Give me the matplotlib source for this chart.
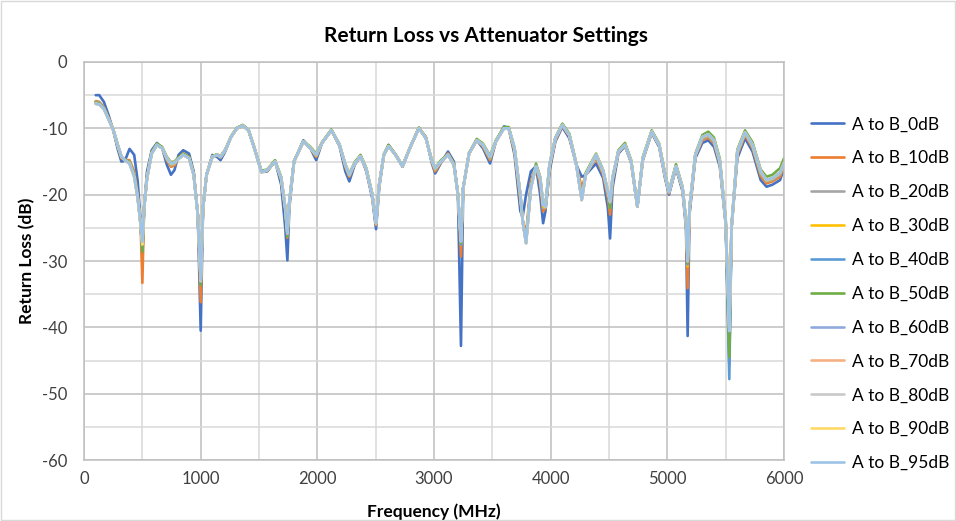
import matplotlib
matplotlib.use("Agg")
import matplotlib.pyplot as plt
from matplotlib.patches import Rectangle

plt.rcParams['font.family'] = ['Lato', 'DejaVu Sans']
plt.rcParams['axes.unicode_minus'] = False

# 频率点 (MHz)
freq = [
    100, 130, 170, 210, 250, 290, 320, 350, 390, 430,
    460, 485, 500, 515, 540, 580, 625, 670, 710, 745,
    775, 810, 850, 900, 940, 975, 1000, 1020, 1050, 1100,
    1140, 1170, 1210, 1260, 1310, 1360, 1410, 1460, 1520, 1570,
    1637, 1690, 1725, 1743, 1760, 1800, 1880, 1940, 1990, 2040,
    2120, 2190, 2240, 2274, 2320, 2370, 2420, 2470, 2503, 2530,
    2570, 2610, 2670, 2730, 2800, 2870, 2930, 2980, 3010, 3060,
    3120, 3170, 3205, 3231, 3250, 3300, 3366, 3420, 3480, 3530,
    3600, 3640, 3690, 3740, 3760, 3789, 3830, 3874, 3910, 3935,
    3955, 3990, 4040, 4100, 4160, 4220, 4266, 4300, 4389, 4450,
    4490, 4509, 4530, 4580, 4637, 4690, 4743, 4790, 4866, 4930,
    4980, 5014, 5074, 5130, 5160, 5174, 5190, 5240, 5300, 5351,
    5400, 5450, 5500, 5531, 5550, 5600, 5666, 5730, 5800, 5850,
    5900, 5966, 6000,
]

rl_0db = [
    -5.0, -5.0, -6.0, -8.0, -10.3, -13.2, -15.0, -14.9, -13.1, -14.0,
    -18.0, -24.0, -29.5, -22.0, -16.5, -13.3, -12.2, -13.0, -15.5, -17.0,
    -16.3, -14.0, -13.3, -13.8, -16.5, -23.0, -40.5, -22.0, -17.0, -14.0,
    -14.3, -14.8, -13.5, -11.3, -10.0, -9.6, -10.3, -13.0, -16.6, -16.5,
    -14.9, -18.5, -25.0, -29.9, -22.0, -15.0, -11.8, -13.0, -14.8, -12.2,
    -10.3, -12.7, -16.5, -18.0, -15.5, -14.2, -16.5, -20.5, -25.2, -19.0,
    -14.0, -12.5, -14.0, -15.8, -12.7, -10.0, -11.3, -15.2, -16.8, -15.2,
    -13.5, -15.0, -20.0, -42.8, -19.0, -13.8, -11.8, -13.0, -15.3, -12.0,
    -9.7, -10.0, -14.0, -22.5, -23.3, -20.0, -16.5, -15.7, -20.0, -24.3,
    -22.5, -16.5, -12.0, -9.8, -11.5, -15.5, -17.3, -17.0, -15.3, -17.5,
    -22.0, -26.6, -19.0, -13.8, -12.7, -15.2, -21.8, -14.8, -10.7, -12.8,
    -17.5, -20.0, -16.0, -19.5, -25.0, -41.3, -23.0, -14.5, -12.2, -11.8,
    -12.8, -15.8, -24.5, -45.5, -25.0, -14.5, -11.5, -13.5, -17.8, -18.8,
    -18.5, -17.8, -16.0,
]

rl_10db = [
    -5.9, -6.0, -6.8, -8.4, -10.2, -12.8, -14.5, -14.8, -14.8, -16.5,
    -20.0, -24.5, -33.3, -22.0, -17.2, -13.6, -12.4, -13.0, -14.8, -15.8,
    -15.6, -14.4, -13.8, -14.3, -16.8, -23.0, -36.2, -22.0, -17.0, -14.2,
    -14.0, -14.4, -13.3, -11.3, -10.0, -9.6, -10.3, -13.0, -16.5, -16.4,
    -15.0, -17.8, -22.5, -26.5, -21.0, -15.0, -12.0, -13.0, -14.3, -12.2,
    -10.3, -12.5, -15.8, -17.3, -15.3, -14.2, -16.3, -20.0, -24.6, -18.5,
    -14.0, -12.6, -14.0, -15.7, -12.7, -10.0, -11.4, -15.0, -16.5, -15.1,
    -13.8, -15.3, -20.0, -29.3, -19.0, -13.8, -11.8, -12.7, -14.8, -12.0,
    -9.9, -10.0, -13.5, -21.0, -23.8, -26.0, -18.0, -15.7, -18.5, -22.5,
    -22.0, -16.0, -11.8, -9.6, -11.2, -15.5, -19.0, -17.0, -14.5, -17.0,
    -20.5, -23.0, -18.0, -13.6, -12.6, -15.1, -21.8, -14.6, -10.6, -12.6,
    -17.2, -19.8, -15.8, -19.2, -24.5, -34.1, -22.5, -14.2, -11.8, -11.4,
    -12.3, -15.4, -24.2, -41.0, -25.0, -14.0, -11.0, -13.0, -17.2, -18.3,
    -18.0, -17.3, -15.6,
]

rl_20db = [
    -6.0, -6.1, -6.9, -8.5, -10.2, -12.7, -14.4, -14.8, -15.0, -16.8,
    -20.2, -24.5, -28.0, -22.0, -17.3, -13.7, -12.4, -13.0, -14.7, -15.6,
    -15.4, -14.5, -13.9, -14.4, -16.9, -23.0, -33.3, -22.0, -17.0, -14.2,
    -14.0, -14.4, -13.3, -11.3, -10.0, -9.6, -10.3, -13.0, -16.5, -16.4,
    -15.0, -17.7, -22.3, -26.0, -21.0, -15.0, -12.0, -13.0, -14.2, -12.2,
    -10.3, -12.5, -15.7, -17.2, -15.3, -14.2, -16.2, -20.0, -24.5, -18.5,
    -14.0, -12.6, -14.0, -15.7, -12.7, -10.0, -11.4, -14.9, -16.3, -15.0,
    -13.9, -15.4, -20.0, -27.5, -19.0, -13.8, -11.8, -12.6, -14.6, -12.0,
    -9.9, -10.0, -13.3, -20.5, -24.0, -26.8, -18.5, -15.7, -18.0, -22.0,
    -22.0, -15.8, -11.6, -9.5, -11.1, -15.5, -20.0, -17.0, -14.3, -16.8,
    -20.0, -22.0, -17.8, -13.5, -12.5, -15.0, -21.8, -14.5, -10.5, -12.5,
    -17.1, -19.7, -15.7, -19.1, -24.2, -30.5, -22.2, -14.1, -11.6, -11.2,
    -12.1, -15.2, -24.1, -42.0, -25.0, -13.8, -10.8, -12.8, -16.9, -18.0,
    -17.8, -17.0, -15.4,
]

rl_30db = [
    -6.1, -6.2, -7.0, -8.5, -10.2, -12.7, -14.3, -14.8, -15.1, -17.0,
    -20.3, -24.5, -28.2, -22.0, -17.4, -13.7, -12.5, -13.0, -14.6, -15.5,
    -15.3, -14.5, -13.9, -14.4, -16.9, -23.0, -33.3, -22.0, -17.0, -14.3,
    -14.0, -14.3, -13.3, -11.3, -10.0, -9.5, -10.3, -13.0, -16.5, -16.4,
    -15.0, -17.6, -22.2, -26.0, -21.0, -15.0, -12.0, -13.0, -14.1, -12.2,
    -10.2, -12.5, -15.6, -17.1, -15.3, -14.1, -16.2, -20.0, -24.4, -18.5,
    -14.0, -12.6, -14.0, -15.7, -12.7, -9.9, -11.4, -14.9, -16.2, -15.0,
    -13.9, -15.4, -20.0, -27.5, -19.0, -13.8, -11.7, -12.6, -14.5, -12.0,
    -9.9, -9.9, -13.2, -20.3, -24.0, -27.0, -18.8, -15.6, -17.8, -21.8,
    -21.9, -15.7, -11.5, -9.4, -11.0, -15.5, -20.5, -17.0, -14.1, -16.6,
    -19.8, -22.0, -17.7, -13.5, -12.4, -15.0, -21.8, -14.5, -10.4, -12.5,
    -17.0, -19.6, -15.6, -19.0, -24.1, -30.8, -22.1, -14.0, -11.4, -11.0,
    -11.9, -15.1, -24.0, -42.0, -25.0, -13.7, -10.7, -12.6, -16.7, -17.9,
    -17.6, -16.8, -15.3,
]

rl_40db = [
    -6.2, -6.3, -7.0, -8.6, -10.2, -12.6, -14.3, -14.8, -15.2, -17.1,
    -20.4, -24.5, -28.4, -22.0, -17.5, -13.8, -12.5, -13.0, -14.5, -15.4,
    -15.2, -14.6, -14.0, -14.5, -17.0, -23.0, -33.3, -22.0, -17.0, -14.3,
    -14.0, -14.3, -13.3, -11.3, -10.0, -9.5, -10.3, -13.0, -16.5, -16.4,
    -15.0, -17.5, -22.1, -26.0, -21.0, -15.0, -12.0, -13.0, -14.0, -12.2,
    -10.2, -12.5, -15.5, -17.0, -15.3, -14.1, -16.2, -20.0, -24.3, -18.5,
    -14.0, -12.6, -14.0, -15.7, -12.7, -9.9, -11.5, -14.8, -16.1, -15.0,
    -14.0, -15.5, -20.0, -27.5, -19.0, -13.8, -11.7, -12.5, -14.4, -12.0,
    -9.9, -9.9, -13.1, -20.2, -24.0, -27.2, -19.0, -15.6, -17.6, -21.6,
    -21.8, -15.6, -11.5, -9.4, -11.0, -15.5, -20.7, -17.0, -14.0, -16.5,
    -19.6, -22.0, -17.6, -13.5, -12.4, -15.0, -21.8, -14.5, -10.4, -12.5,
    -17.0, -19.6, -15.6, -19.0, -24.0, -30.5, -22.0, -14.0, -11.3, -10.9,
    -11.8, -15.0, -24.0, -47.8, -25.0, -13.6, -10.6, -12.5, -16.6, -17.8,
    -17.5, -16.7, -15.2,
]

rl_50db = [
    -6.1, -6.2, -6.9, -8.5, -10.1, -12.5, -14.2, -14.7, -15.1, -17.0,
    -20.3, -24.4, -28.6, -22.0, -17.3, -13.6, -12.3, -12.8, -14.3, -15.1,
    -15.0, -14.4, -13.8, -14.3, -16.8, -23.0, -33.6, -22.0, -17.0, -14.2,
    -13.9, -14.2, -13.2, -11.2, -9.9, -9.5, -10.2, -12.9, -16.4, -16.2,
    -14.8, -17.3, -22.0, -26.3, -21.0, -14.9, -11.9, -12.8, -13.8, -12.1,
    -10.2, -12.4, -15.4, -16.8, -15.1, -14.0, -16.0, -19.8, -24.0, -18.3,
    -13.9, -12.5, -13.9, -15.6, -12.6, -9.9, -11.4, -14.7, -15.9, -14.8,
    -13.9, -15.3, -19.8, -27.3, -19.0, -13.7, -11.6, -12.3, -14.1, -11.8,
    -9.8, -9.8, -12.9, -20.0, -23.8, -27.0, -18.8, -15.3, -17.3, -21.3,
    -21.6, -15.4, -11.4, -9.3, -10.8, -15.3, -20.5, -16.7, -13.8, -16.3,
    -19.5, -22.0, -17.4, -13.3, -12.2, -14.8, -21.6, -14.3, -10.3, -12.3,
    -16.8, -19.4, -15.4, -18.8, -23.8, -30.3, -21.8, -13.8, -11.0, -10.5,
    -11.4, -14.6, -23.6, -44.5, -24.6, -13.2, -10.3, -12.1, -16.2, -17.3,
    -17.0, -16.0, -14.5,
]

rl_60db = [
    -6.2, -6.3, -7.0, -8.6, -10.2, -12.6, -14.2, -14.8, -15.3, -17.2,
    -20.5, -24.5, -27.3, -22.0, -17.5, -13.8, -12.5, -13.0, -14.5, -15.3,
    -15.2, -14.6, -14.0, -14.5, -17.0, -23.0, -33.1, -22.0, -17.0, -14.3,
    -14.0, -14.3, -13.3, -11.3, -10.0, -9.6, -10.3, -13.0, -16.5, -16.3,
    -15.0, -17.5, -22.0, -25.9, -21.0, -15.0, -12.0, -13.0, -14.0, -12.2,
    -10.3, -12.5, -15.5, -17.0, -15.3, -14.2, -16.2, -20.0, -24.3, -18.5,
    -14.0, -12.7, -14.0, -15.7, -12.7, -10.0, -11.5, -14.8, -16.0, -15.0,
    -14.0, -15.5, -20.0, -27.1, -19.0, -13.8, -11.8, -12.5, -14.3, -12.0,
    -10.0, -10.0, -13.0, -20.0, -24.0, -27.3, -19.0, -15.7, -17.5, -21.5,
    -21.8, -15.5, -11.5, -9.5, -11.0, -15.5, -20.8, -17.0, -14.0, -16.5,
    -19.5, -21.2, -17.5, -13.5, -12.5, -15.0, -21.8, -14.5, -10.5, -12.5,
    -17.0, -19.6, -15.7, -19.0, -24.0, -30.1, -22.0, -14.0, -11.3, -10.9,
    -11.8, -15.0, -24.0, -40.6, -25.0, -13.5, -10.6, -12.5, -16.5, -17.8,
    -17.5, -16.7, -15.2,
]

rl_70db = [
    -6.3, -6.4, -7.1, -8.6, -10.2, -12.6, -14.2, -14.8, -15.3, -17.3,
    -20.5, -24.5, -27.4, -22.0, -17.5, -13.8, -12.5, -13.0, -14.5, -15.3,
    -15.2, -14.6, -14.0, -14.5, -17.0, -23.0, -33.0, -22.0, -17.0, -14.3,
    -14.0, -14.3, -13.3, -11.3, -10.0, -9.6, -10.3, -13.0, -16.6, -16.3,
    -15.0, -17.5, -22.0, -25.8, -21.0, -15.0, -12.0, -13.0, -14.0, -12.2,
    -10.3, -12.5, -15.5, -17.0, -15.3, -14.2, -16.2, -20.0, -24.3, -18.5,
    -14.0, -12.7, -14.0, -15.7, -12.7, -10.0, -11.5, -14.8, -16.0, -15.0,
    -14.0, -15.5, -20.0, -27.0, -19.0, -13.8, -11.8, -12.5, -14.3, -12.0,
    -10.0, -10.0, -13.0, -20.0, -24.0, -27.3, -19.0, -15.7, -17.5, -21.5,
    -21.8, -15.5, -11.5, -9.5, -11.0, -15.5, -20.8, -17.0, -14.0, -16.5,
    -19.5, -21.1, -17.5, -13.5, -12.5, -15.0, -21.8, -14.5, -10.5, -12.5,
    -17.0, -19.6, -15.7, -19.0, -24.0, -30.0, -22.0, -14.0, -11.3, -10.9,
    -11.8, -15.0, -24.0, -40.5, -25.0, -13.5, -10.6, -12.5, -16.5, -17.8,
    -17.5, -16.7, -15.2,
]

rl_80db = [
    -6.3, -6.4, -7.1, -8.6, -10.2, -12.6, -14.2, -14.8, -15.3, -17.3,
    -20.5, -24.5, -27.5, -22.0, -17.5, -13.8, -12.5, -13.0, -14.5, -15.3,
    -15.2, -14.6, -14.0, -14.5, -17.0, -23.0, -33.0, -22.0, -17.0, -14.3,
    -14.0, -14.3, -13.3, -11.3, -10.0, -9.6, -10.3, -13.0, -16.6, -16.3,
    -15.0, -17.5, -22.0, -25.8, -21.0, -15.0, -12.0, -13.0, -14.0, -12.2,
    -10.3, -12.5, -15.5, -17.0, -15.3, -14.2, -16.2, -20.0, -24.3, -18.5,
    -14.0, -12.7, -14.0, -15.7, -12.7, -10.0, -11.5, -14.8, -16.0, -15.0,
    -14.0, -15.5, -20.0, -27.0, -19.0, -13.8, -11.8, -12.5, -14.3, -12.0,
    -10.0, -10.0, -13.0, -20.0, -24.0, -27.3, -19.0, -15.7, -17.5, -21.5,
    -21.8, -15.5, -11.5, -9.5, -11.0, -15.5, -20.8, -17.0, -14.0, -16.5,
    -19.5, -21.0, -17.5, -13.5, -12.5, -15.0, -21.8, -14.5, -10.5, -12.5,
    -17.0, -19.6, -15.7, -19.0, -24.0, -30.0, -22.0, -14.0, -11.3, -10.9,
    -11.8, -15.0, -24.0, -40.5, -25.0, -13.5, -10.6, -12.5, -16.5, -17.8,
    -17.5, -16.7, -15.2,
]

rl_90db = [
    -6.3, -6.4, -7.1, -8.6, -10.2, -12.6, -14.2, -14.8, -15.3, -17.3,
    -20.5, -24.5, -27.5, -22.0, -17.5, -13.8, -12.5, -13.0, -14.5, -15.3,
    -15.2, -14.6, -14.0, -14.5, -17.0, -23.0, -33.0, -22.0, -17.0, -14.3,
    -14.0, -14.3, -13.3, -11.3, -10.0, -9.6, -10.3, -13.0, -16.6, -16.3,
    -15.0, -17.5, -22.0, -25.8, -21.0, -15.0, -12.0, -13.0, -14.0, -12.2,
    -10.3, -12.5, -15.5, -17.0, -15.3, -14.2, -16.2, -20.0, -24.3, -18.5,
    -14.0, -12.7, -14.0, -15.7, -12.7, -10.0, -11.5, -14.8, -16.0, -15.0,
    -14.0, -15.5, -20.0, -27.0, -19.0, -13.8, -11.8, -12.5, -14.3, -12.0,
    -10.0, -10.0, -13.0, -20.0, -24.0, -27.3, -19.0, -15.7, -17.5, -21.5,
    -21.8, -15.5, -11.5, -9.5, -11.0, -15.5, -20.8, -17.0, -14.0, -16.5,
    -19.5, -21.0, -17.5, -13.5, -12.5, -15.0, -21.8, -14.5, -10.5, -12.5,
    -17.0, -19.6, -15.7, -19.0, -24.0, -30.0, -22.0, -14.0, -11.3, -10.9,
    -11.8, -15.0, -24.0, -40.5, -25.0, -13.5, -10.6, -12.5, -16.5, -17.8,
    -17.5, -16.7, -15.2,
]

rl_95db = [
    -6.3, -6.4, -7.1, -8.6, -10.2, -12.6, -14.2, -14.8, -15.3, -17.3,
    -20.5, -24.5, -27.1, -22.0, -17.5, -13.8, -12.5, -13.0, -14.5, -15.3,
    -15.2, -14.6, -14.0, -14.5, -17.0, -23.0, -32.9, -22.0, -17.0, -14.3,
    -14.0, -14.3, -13.3, -11.3, -10.0, -9.6, -10.3, -13.0, -16.6, -16.3,
    -15.0, -17.5, -22.0, -25.8, -21.0, -15.0, -12.0, -13.0, -14.0, -12.2,
    -10.3, -12.5, -15.5, -17.0, -15.3, -14.2, -16.2, -20.0, -24.3, -18.5,
    -14.0, -12.7, -14.0, -15.7, -12.7, -10.0, -11.5, -14.8, -16.0, -15.0,
    -14.0, -15.5, -20.0, -27.0, -19.0, -13.8, -11.8, -12.5, -14.3, -12.0,
    -10.0, -10.0, -13.0, -20.0, -24.0, -27.3, -19.0, -15.7, -17.5, -21.5,
    -21.8, -15.5, -11.5, -9.5, -11.0, -15.5, -20.8, -17.0, -14.0, -16.5,
    -19.5, -21.0, -17.5, -13.5, -12.5, -15.0, -21.8, -14.5, -10.5, -12.5,
    -17.0, -19.6, -15.7, -19.0, -24.0, -30.0, -22.0, -14.0, -11.3, -10.9,
    -11.8, -15.0, -24.0, -40.5, -25.0, -13.5, -10.6, -12.5, -16.5, -17.8,
    -17.5, -16.7, -15.2,
]

labels = ["A to B_0dB", "A to B_10dB", "A to B_20dB", "A to B_30dB",
          "A to B_40dB", "A to B_50dB", "A to B_60dB", "A to B_70dB",
          "A to B_80dB", "A to B_90dB", "A to B_95dB"]
series = [rl_0db, rl_10db, rl_20db, rl_30db, rl_40db, rl_50db,
          rl_60db, rl_70db, rl_80db, rl_90db, rl_95db]
colors = ["#4472C4", "#ED7D31", "#A5A5A5", "#FFC000", "#5B9BD5", "#70AD47",
          "#8FAADC", "#F4B183", "#C9C9C9", "#FFD966", "#9DC3E6"]

fig = plt.figure(figsize=(9.56, 5.21), dpi=100)
ax = fig.add_axes([0.0879, 0.117, 0.7322, 0.764])

for vals, lab, c in zip(series, labels, colors):
    ax.plot(freq, vals, color=c, lw=1.9, label=lab,
            solid_joinstyle="round", solid_capstyle="round")

ax.set_xlim(0, 6000)
ax.set_ylim(-60, 0)
ax.set_xticks(range(0, 6001, 1000))
ax.set_yticks(range(-60, 1, 10))
ax.set_xticks(range(500, 6000, 1000), minor=True)
ax.set_yticks(range(-55, 0, 10), minor=True)
ax.grid(which="major", color="#BFBFBF", lw=1.1)
ax.grid(which="minor", color="#D9D9D9", lw=1.1)
ax.set_axisbelow(True)
ax.tick_params(which="both", length=0, labelsize=12, colors="#404040")
ax.tick_params(axis="x", pad=8)
ax.tick_params(axis="y", pad=12)
for s in ax.spines.values():
    s.set_color("#BFBFBF")
    s.set_linewidth(1.1)

fig.text(0.508, 0.93, "Return Loss vs Attenuator Settings", fontsize=15,
         fontweight="bold", ha="center", va="center")
ax.set_xlabel("Frequency (MHz)", fontsize=12.5, fontweight="bold", labelpad=12)
ax.set_ylabel("Return Loss (dB)", fontsize=12.5, fontweight="bold", labelpad=5)

ax.legend(loc="upper left", bbox_to_anchor=(0.841, 0.79), bbox_transform=fig.transFigure,
          frameon=False, fontsize=12.5, handlelength=1.9, handletextpad=0.46,
          labelspacing=1.03, borderaxespad=0)

# 图表外框
fig.patches.append(Rectangle((0.001, 0.001), 0.998, 0.998, transform=fig.transFigure,
                             fill=False, edgecolor="#D9D9D9", lw=1))

fig.savefig("out.png", dpi=100)
